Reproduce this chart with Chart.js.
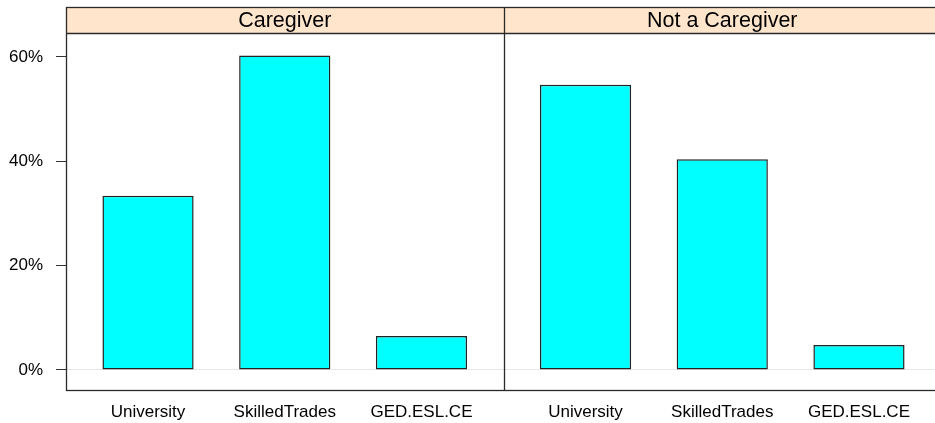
<!DOCTYPE html>
<html>
<head>
<meta charset="utf-8">
<script src="https://cdn.jsdelivr.net/npm/chart.js@4"></script>
<style>
  html, body { margin: 0; padding: 0; background: #fff; }
  #wrap { width: 935px; height: 423px; overflow: hidden; }
</style>
</head>
<body>
<div id="wrap">
  <canvas id="chart" width="945" height="423"></canvas>
</div>
<script>
// data
const panels = ['Caregiver', 'Not a Caregiver'];
const categories = ['University', 'SkilledTrades', 'GED.ESL.CE'];
const caregiverValues = [33.4, 60.3, 6.5];
const notCaregiverValues = [54.7, 40.4, 4.8];
const yTicks = [0, 20, 40, 60];

// lattice-like panel: categories at 1..n, padded by 0.6 either side
const pad = 0.6;
const panelWidth = categories.length - 1 + 2 * pad;
const xPos = (panel, i) => panel * panelWidth + i + 1;

const tickPositions = [];
const tickNames = {};
panels.forEach((p, pi) => {
  categories.forEach((c, i) => {
    tickPositions.push(xPos(pi, i));
    tickNames[xPos(pi, i).toFixed(2)] = c;
  });
});

const seriesValues = [caregiverValues, notCaregiverValues];

// strips, box and panel divider
const stripPlugin = {
  id: 'strips',
  beforeDraw(chart) {
    const { ctx, chartArea } = chart;
    const x = chart.scales.x;
    const top = 7;
    ctx.save();
    ctx.fillStyle = '#ffe5cc';
    ctx.fillRect(chartArea.left, top, chartArea.right - chartArea.left, chartArea.top - top);
    ctx.fillStyle = '#000';
    ctx.font = '21.5px "Liberation Sans", Arial, sans-serif';
    ctx.textAlign = 'center';
    ctx.textBaseline = 'middle';
    panels.forEach((p, pi) => {
      const a = x.getPixelForValue(pi * panelWidth + 1 - pad);
      const b = x.getPixelForValue((pi + 1) * panelWidth + 1 - pad);
      ctx.fillText(p, (a + b) / 2, (top + chartArea.top) / 2 + 1);
    });
    ctx.restore();
  },
  afterDraw(chart) {
    const { ctx, chartArea } = chart;
    const x = chart.scales.x;
    const top = 7.5;
    const L = Math.round(chartArea.left) + 0.5;
    const R = Math.round(chartArea.right) + 0.5;
    const T = Math.round(chartArea.top) + 0.5;
    const B = Math.round(chartArea.bottom) + 0.5;
    ctx.save();
    ctx.strokeStyle = '#2a2a2a';
    ctx.lineWidth = 1.3;
    ctx.strokeRect(L, top, R - L, B - top);
    ctx.beginPath();
    ctx.moveTo(L, T);
    ctx.lineTo(R, T);
    for (let pi = 1; pi < panels.length; pi++) {
      const d = Math.round(x.getPixelForValue(pi * panelWidth + 1 - pad)) + 0.5;
      ctx.moveTo(d, top);
      ctx.lineTo(d, B);
    }
    ctx.stroke();
    ctx.restore();
  }
};

Chart.defaults.font.family = '"Liberation Sans", Arial, sans-serif';
Chart.defaults.font.size = 17;
Chart.defaults.color = '#000';

new Chart(document.getElementById('chart'), {
  type: 'bar',
  data: {
    datasets: panels.map((p, pi) => ({
      label: p,
      data: categories.map((c, i) => ({ x: xPos(pi, i), y: seriesValues[pi][i] })),
      backgroundColor: '#00ffff',
      borderColor: '#222',
      borderWidth: 1.5,
      borderSkipped: false,
      grouped: false,
      barPercentage: 0.667,
      categoryPercentage: 1
    }))
  },
  options: {
    responsive: false,
    animation: false,
    layout: { padding: { top: 33, right: 4, left: 0, bottom: 0 } },
    plugins: {
      legend: { display: false },
      tooltip: { enabled: false }
    },
    scales: {
      x: {
        type: 'linear',
        offset: false,
        min: 1 - pad,
        max: panels.length * panelWidth + 1 - pad,
        grid: { display: false },
        border: { display: false },
        afterBuildTicks: s => { s.ticks = tickPositions.map(v => ({ value: v })); },
        afterFit: s => { s.height = 33; },
        ticks: {
          padding: 4,
          maxRotation: 0,
          autoSkip: false,
          callback: v => tickNames[Number(v).toFixed(2)] || ''
        }
      },
      y: {
        min: -3.84,
        max: 64.6,
        afterBuildTicks: s => { s.ticks = yTicks.map(v => ({ value: v })); },
        afterFit: s => { s.width = 66; },
        border: { display: false },
        grid: {
          color: c => (c.tick && c.tick.value === 0 ? '#e6e6e6' : 'rgba(0,0,0,0)'),
          tickColor: '#333',
          tickLength: 10,
          drawTicks: true
        },
        ticks: {
          padding: 13,
          callback: v => v + '%'
        }
      }
    }
  },
  plugins: [stripPlugin]
});
</script>
</body>
</html>
